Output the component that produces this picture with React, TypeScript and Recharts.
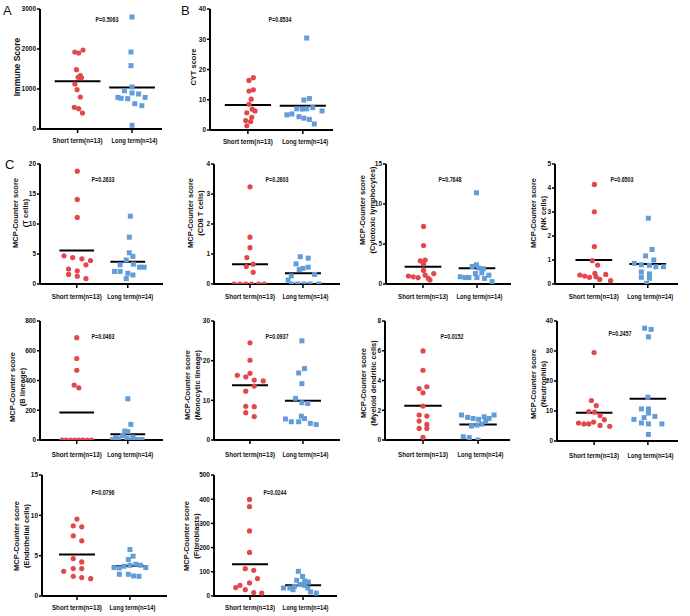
import React from 'react';
import { ScatterChart, Scatter, XAxis, YAxis, ReferenceLine } from 'recharts';

// ---------- categories / tick labels ----------
const groupLabels = ['Short term(n=13)', 'Long term(n=14)'];

// ---------- data: [x position within group (jitter), value] ----------
const immuneShort = [[0.95, 1925], [1.02, 1900], [1.1, 1975], [0.98, 1483], [1.05, 1333], [1.01, 1292], [1.07, 1283], [0.95, 1125], [0.99, 983], [1.05, 800], [0.94, 541], [1.02, 508], [1.09, 400]];
const immuneLong = [[2.0, 2800], [1.98, 1925], [1.98, 1583], [2.0, 1050], [1.86, 958], [2.0, 900], [2.12, 875], [1.74, 790], [1.8, 767], [1.92, 758], [2.24, 790], [2.05, 633], [2.18, 583], [2.0, 92]];
const immuneMeans = [1196, 1040];
const immuneTicks = [0, 1000, 2000, 3000];

const cytShort = [[1.1, 17.3], [1.02, 16.4], [1.1, 13.3], [1.02, 12.9], [1.06, 10.2], [1.02, 8.5], [1.08, 6.9], [1.13, 6.3], [0.98, 5.7], [1.07, 4.2], [0.96, 3.1], [1.05, 2.8], [0.98, 1.4]];
const cytLong = [[2.07, 30.4], [2.12, 10.4], [2.02, 9.9], [1.89, 7.0], [1.99, 6.9], [2.07, 7.0], [2.18, 7.4], [2.35, 6.3], [1.8, 5.3], [1.71, 5.0], [1.93, 4.4], [2.02, 3.9], [2.12, 3.5], [2.21, 2.0]];
const cytMeans = [8.3, 8.0];
const cytTicks = [0, 10, 20, 30, 40];

const tShort = [[1.01, 18.8], [1.01, 14.1], [1.01, 11.1], [0.75, 4.7], [0.92, 4.4], [1.1, 4.2], [1.27, 3.9], [1.18, 3.2], [0.84, 2.5], [1.01, 2.2], [0.84, 1.6], [1.01, 1.3], [1.18, 0.9]];
const tLong = [[2.05, 11.3], [2.03, 7.8], [2.03, 5.2], [2.1, 4.6], [1.97, 4.0], [1.85, 3.2], [2.11, 3.3], [2.23, 2.8], [2.32, 2.8], [1.74, 2.1], [1.85, 2.1], [2.0, 1.8], [2.1, 1.5], [1.97, 0.9]];
const tMeans = [5.6, 3.7];
const tTicks = [0, 5, 10, 15, 20];

const cd8Short = [[1.0, 3.24], [1.0, 1.56], [1.0, 1.21], [0.94, 0.88], [1.06, 0.66], [0.93, 0.58], [1.06, 0.39], [0.7, 0], [0.81, 0], [0.92, 0], [1.03, 0], [1.16, 0], [1.27, 0]];
const cd8Long = [[1.95, 0.91], [2.1, 0.86], [1.87, 0.67], [2.1, 0.56], [2.0, 0.52], [1.93, 0.48], [2.22, 0.32], [1.78, 0.27], [1.72, 0.13], [1.78, 0], [1.9, 0], [2.02, 0], [2.14, 0], [2.3, 0]];
const cd8Means = [0.66, 0.36];
const cd8Ticks = [0, 1, 2, 3, 4];

const cytoShort = [[1.01, 7.2], [1.01, 4.8], [1.04, 3.0], [0.95, 2.9], [1.01, 2.5], [1.01, 1.7], [1.2, 1.3], [1.04, 1.1], [0.73, 1.0], [0.82, 0.9], [0.91, 0.8], [1.1, 0.7], [1.13, 0.5]];
const cytoLong = [[1.99, 11.4], [1.99, 2.4], [1.91, 2.2], [2.03, 2.0], [2.12, 1.9], [2.09, 1.4], [1.97, 1.3], [2.22, 1.1], [1.69, 0.9], [1.78, 0.8], [1.85, 0.8], [2.0, 0.8], [2.14, 0.7], [2.28, 0.3]];
const cytoMeans = [2.17, 1.96];
const cytoTicks = [0, 5, 10, 15];

const nkShort = [[1.01, 4.15], [1.01, 3.01], [1.01, 1.56], [0.97, 0.97], [1.07, 0.79], [0.74, 0.375], [0.83, 0.33], [0.92, 0.28], [1.02, 0.44], [1.22, 0.4], [1.11, 0.19], [1.31, 0.14], [1.04, 0.3]];
const nkLong = [[2.01, 2.74], [2.08, 1.44], [1.96, 1.17], [2.11, 1.0], [1.75, 0.86], [1.88, 0.8], [2.03, 0.78], [2.15, 0.72], [2.29, 0.72], [1.88, 0.5], [2.03, 0.42], [1.88, 0.28], [2.03, 0.24], [1.98, 0.02]];
const nkMeans = [1.0, 0.83];
const nkTicks = [0, 1, 2, 3, 4, 5];

const bShort = [[1.0, 688], [1.0, 548], [1.0, 469], [0.95, 369], [1.04, 351], [0.71, 0], [0.79, 0], [0.88, 0], [0.96, 0], [1.04, 0], [1.12, 0], [1.21, 0], [1.29, 0]];
const bLong = [[2.0, 277], [2.06, 105], [1.94, 60], [2.0, 56], [1.9, 30], [1.76, 15], [2.1, 20], [1.82, 8], [1.98, 10], [2.14, 5], [2.28, 3], [1.7, 2], [2.22, 1], [2.05, 0]];
const bMeans = [185, 38];
const bTicks = [0, 200, 400, 600, 800];

const monoShort = [[1.0, 24.5], [1.0, 20.1], [0.76, 16.3], [0.92, 15.9], [1.0, 16.8], [1.08, 15.1], [1.25, 14.9], [1.08, 13.6], [0.92, 12.3], [0.92, 8.5], [1.08, 8.4], [0.92, 6.9], [1.08, 5.9]];
const monoLong = [[1.98, 25.0], [2.03, 18.0], [1.92, 16.9], [1.98, 14.2], [1.86, 10.5], [1.98, 9.4], [2.09, 9.2], [1.97, 6.0], [2.03, 5.4], [1.67, 5.3], [1.78, 4.6], [1.92, 4.6], [2.14, 4.2], [2.25, 3.9]];
const monoMeans = [13.8, 9.9];
const monoTicks = [0, 10, 20, 30];

const mdcShort = [[1.0, 5.99], [1.0, 4.69], [0.93, 3.46], [1.07, 3.58], [1.0, 3.17], [1.0, 2.28], [0.93, 1.68], [1.07, 1.61], [0.93, 1.27], [1.07, 1.05], [0.93, 0.78], [1.07, 0.78], [1.0, 0.18]];
const mdcLong = [[1.7, 1.68], [1.81, 1.52], [1.91, 1.45], [2.01, 1.39], [2.11, 1.56], [2.2, 1.45], [2.29, 1.68], [1.88, 0.94], [1.98, 1.0], [2.07, 1.07], [2.14, 1.27], [1.73, 0.22], [1.84, 0.16], [2.0, 0.0]];
const mdcMeans = [2.3, 1.05];
const mdcTicks = [0, 2, 4, 6, 8];

const neuShort = [[1.0, 29.5], [0.95, 13.5], [1.04, 11.8], [0.9, 9.8], [1.01, 9.6], [1.11, 8.5], [1.19, 7.1], [0.71, 6.0], [0.81, 5.7], [0.9, 5.7], [0.99, 6.3], [1.11, 5.2], [1.29, 4.9]];
const neuLong = [[1.94, 37.6], [2.06, 37.2], [2.01, 34.7], [2.0, 14.6], [1.88, 10.7], [2.01, 10.7], [2.01, 9.3], [2.13, 8.2], [1.74, 7.2], [1.88, 6.0], [2.01, 5.7], [2.26, 5.7], [2.01, 2.2], [1.93, 7.8]];
const neuMeans = [9.4, 14.1];
const neuTicks = [0, 10, 20, 30, 40];

const endoShort = [[1.0, 9.53], [0.93, 8.7], [1.09, 8.58], [0.93, 7.46], [1.09, 6.84], [0.93, 4.64], [1.09, 4.23], [0.75, 3.07], [0.93, 3.4], [1.09, 3.4], [0.93, 2.44], [1.09, 2.28], [1.26, 2.15]];
const endoLong = [[2.0, 5.76], [2.06, 4.93], [1.97, 4.52], [1.7, 3.52], [1.8, 3.48], [1.89, 3.69], [2.0, 3.81], [2.11, 3.94], [2.2, 3.81], [2.3, 3.52], [1.8, 2.69], [1.97, 2.69], [2.07, 2.49], [2.17, 2.44]];
const endoMeans = [5.14, 3.73];
const endoTicks = [0, 5, 10, 15];

const fibShort = [[0.99, 399], [0.99, 369], [0.99, 269], [0.99, 180], [0.91, 113], [1.07, 106], [1.14, 72], [0.99, 54], [0.81, 44], [0.73, 35], [0.91, 26], [1.07, 14], [1.22, 12]];
const fibLong = [[1.91, 102], [1.99, 81], [1.88, 65], [2.03, 62], [2.1, 58], [1.94, 48], [2.03, 44], [1.84, 40], [1.75, 33], [1.63, 33], [2.09, 33], [1.81, 26], [2.14, 17], [2.25, 12]];
const fibMeans = [131, 44];
const fibTicks = [0, 100, 200, 300, 400, 500];

// ---------- styling / layout ----------
const RED = '#e2474b';
const BLUE = '#629dd9';
const FONT = "'Liberation Sans', Arial, Helvetica, sans-serif";
const YW = 45;
const MT = 8;
const MR = 28;
const XH = 26;

const toPts = (arr: number[][]) => arr.map(([x, y]) => ({ x, y }));

const panels = [
  { title: ['Immune Score'], s: immuneShort, l: immuneLong, m: immuneMeans, t: immuneTicks, p: 'P=0.5063', lx: 40, top: 9, w: 122, h: 120, dom: [0.31, 2.55], half: 0.42, lDx: -23, lDy: -2, lFs: 8.5, gap: 2.4, pDy: 10, pDx: 67 },
  { title: ['CYT score'], s: cytShort, l: cytLong, m: cytMeans, t: cytTicks, p: 'P=0.8534', lx: 210, top: 9, w: 123, h: 121, dom: [0.31, 2.55], half: 0.42, lDx: -16, lDy: -3, lFs: 7.5, gap: 2.4, pDy: 10, pDx: 70 },
  { title: ['MCP-Counter score', '(T cells)'], s: tShort, l: tLong, m: tMeans, t: tTicks, p: 'P=0.2633', lx: 40, top: 164, w: 123, h: 120, dom: [0.28, 2.69], half: 0.34, lDx: -19, lDy: -11, lFs: 7.5, gap: 3.4, pDy: 15, pDx: 63 },
  { title: ['MCP-Counter score', '(CD8 T cells)'], s: cd8Short, l: cd8Long, m: cd8Means, t: cd8Ticks, p: 'P=0.2603', lx: 214, top: 164, w: 126, h: 120, dom: [0.32, 2.7], half: 0.34, lDx: -18, lDy: -11, lFs: 7.5, gap: 3.4, pDy: 15, pDx: 63 },
  { title: ['MCP-Counter score', '(Cytotoxic lymphocytes)'], s: cytoShort, l: cytoLong, m: cytoMeans, t: cytoTicks, p: 'P=0.7648', lx: 386, top: 164, w: 125, h: 120, dom: [0.315, 2.63], half: 0.34, lDx: -18, lDy: -14, lFs: 7.5, gap: 3.4, pDy: 15, pDx: 64 },
  { title: ['MCP-Counter score', '(NK cells)'], s: nkShort, l: nkLong, m: nkMeans, t: nkTicks, p: 'P=0.6503', lx: 555, top: 164, w: 123, h: 120, dom: [0.28, 2.56], half: 0.34, lDx: -16, lDy: -11, lFs: 7.5, gap: 3.4, pDy: 15, pDx: 67 },
  { title: ['MCP-Counter score', '(B lineage)'], s: bShort, l: bLong, m: bMeans, t: bTicks, p: 'P=0.0463', lx: 40, top: 321, w: 123, h: 119, dom: [0.28, 2.69], half: 0.34, lDx: -22, lDy: 6, lFs: 7.5, gap: 5.4, pDy: 15, pDx: 63 },
  { title: ['MCP-Counter score', '(Monocytic lineage)'], s: monoShort, l: monoLong, m: monoMeans, t: monoTicks, p: 'P=0.0937', lx: 214, top: 321, w: 126, h: 119, dom: [0.32, 2.7], half: 0.34, lDx: -21, lDy: 4, lFs: 7.5, gap: 5.4, pDy: 15, pDx: 63 },
  { title: ['MCP-Counter score', '(Myeloid dendritic cells)'], s: mdcShort, l: mdcLong, m: mdcMeans, t: mdcTicks, p: 'P=0.0152', lx: 385, top: 321, w: 125, h: 119, dom: [0.31, 2.58], half: 0.34, lDx: -16, lDy: 2, lFs: 7.5, gap: 5.4, pDy: 15, pDx: 67 },
  { title: ['MCP-Counter score', '(Neutrophils)'], s: neuShort, l: neuLong, m: neuMeans, t: neuTicks, p: 'P=0.2457', lx: 557, top: 321, w: 121, h: 120, dom: [0.31, 2.56], half: 0.34, lDx: -18, lDy: 3, lFs: 7.5, gap: 5.4, pDy: 12, pDx: 63 },
  { title: ['MCP-Counter score', '(Endothelial cells)'], s: endoShort, l: endoLong, m: endoMeans, t: endoTicks, p: 'P=0.0796', lx: 42, top: 475, w: 125, h: 121, dom: [0.34, 2.7], half: 0.34, lDx: -20, lDy: 0, lFs: 7.5, gap: 2.4, pDy: 17, pDx: 61 },
  { title: ['MCP-Counter score', '(Fibroblasts)'], s: fibShort, l: fibLong, m: fibMeans, t: fibTicks, p: 'P=0.0244', lx: 214, top: 475, w: 123, h: 121, dom: [0.32, 2.64], half: 0.34, lDx: -22, lDy: 0, lFs: 7.5, gap: 2.4, pDy: 17, pDx: 61 },
];

const RedDot = (props: any) => <circle cx={props.cx} cy={props.cy} r={2.6} fill={RED} />;
const BlueSq = (props: any) => <rect x={props.cx - 2.5} y={props.cy - 2.5} width={5} height={5} fill={BLUE} />;

const XTick = (props: any) => {
  const { x, y, payload, gap } = props;
  const idx = Math.round(payload.value) - 1;
  const label = groupLabels[idx] ?? '';
  return (
    <text
      x={x + (idx === 0 ? 0 : 2.5)}
      y={y + gap}
      dy="0.71em"
      textAnchor="middle"
      fontSize={7.5}
      fontWeight={700}
      fontFamily={FONT}
      fill="#111"
      textLength={idx === 0 ? 50 : 46}
      lengthAdjust="spacingAndGlyphs"
    >
      {label}
    </text>
  );
};

const Panel = ({ cfg }: { cfg: any }) => {
  const ymax = cfg.t[cfg.t.length - 1];
  return (
    <div style={{ position: 'absolute', left: cfg.lx - YW, top: cfg.top - MT }}>
      <ScatterChart
        width={YW + cfg.w + MR}
        height={MT + cfg.h + XH}
        margin={{ top: MT, right: MR, left: 0, bottom: 0 }}
      >
        <XAxis
          type="number"
          dataKey="x"
          domain={cfg.dom}
          ticks={[1, 2]}
          interval={0}
          allowDataOverflow
          height={XH}
          axisLine={{ stroke: '#000', strokeWidth: 2 }}
          tickLine={{ stroke: '#000', strokeWidth: 1.5 }}
          tickSize={4}
          tick={<XTick gap={cfg.gap} />}
        />
        <YAxis
          type="number"
          dataKey="y"
          domain={[0, ymax]}
          ticks={cfg.t}
          interval={0}
          allowDataOverflow
          width={YW}
          axisLine={{ stroke: '#000', strokeWidth: 2 }}
          tickLine={{ stroke: '#000', strokeWidth: 1.5 }}
          tickSize={3}
          tickMargin={1}
          tick={{ fontSize: 6.5, fontWeight: 700, fill: '#111', fontFamily: FONT }}
        />
        <Scatter data={toPts(cfg.s)} isAnimationActive={false} shape={RedDot} />
        <Scatter data={toPts(cfg.l)} isAnimationActive={false} shape={BlueSq} />
        <ReferenceLine
          segment={[{ x: 1 - cfg.half, y: cfg.m[0] }, { x: 1 + cfg.half, y: cfg.m[0] }]}
          stroke="#000"
          strokeWidth={2}
        />
        <ReferenceLine
          segment={[{ x: 2 - cfg.half, y: cfg.m[1] }, { x: 2 + cfg.half, y: cfg.m[1] }]}
          stroke="#000"
          strokeWidth={2}
        />
      </ScatterChart>
    </div>
  );
};

const YLabel = ({ cfg }: { cfg: any }) => (
  <div
    style={{
      position: 'absolute',
      left: cfg.lx + cfg.lDx,
      top: cfg.top + cfg.h / 2 + cfg.lDy,
      transform: 'translate(-50%, -50%) rotate(-90deg)',
      fontFamily: FONT,
      fontWeight: 700,
      fontSize: cfg.lFs,
      lineHeight: '10px',
      whiteSpace: 'nowrap',
      textAlign: 'center',
      color: '#111',
    }}
  >
    {cfg.title.map((t: string, i: number) => (
      <div key={i}>{t}</div>
    ))}
  </div>
);

const PLabel = ({ cfg }: { cfg: any }) => (
  <div
    style={{
      position: 'absolute',
      left: cfg.lx + cfg.pDx,
      top: cfg.top + cfg.pDy,
      transform: 'translate(-50%, -50%) scaleX(0.82)',
      fontFamily: FONT,
      fontWeight: 700,
      fontSize: 6.5,
      whiteSpace: 'nowrap',
      color: '#111',
    }}
  >
    {cfg.p}
  </div>
);

const Letter = ({ text, left, top }: { text: string; left: number; top: number }) => (
  <div
    style={{
      position: 'absolute',
      left,
      top,
      fontFamily: FONT,
      fontSize: 13,
      lineHeight: '13px',
      color: '#111',
    }}
  >
    {text}
  </div>
);

export default function App() {
  return (
    <div
      style={{
        position: 'absolute',
        left: 0,
        top: 0,
        width: 690,
        height: 616,
        background: '#fff',
        overflow: 'hidden',
      }}
    >
      {panels.map((cfg, i) => (
        <Panel key={'p' + i} cfg={cfg} />
      ))}
      {panels.map((cfg, i) => (
        <YLabel key={'y' + i} cfg={cfg} />
      ))}
      {panels.map((cfg, i) => (
        <PLabel key={'pl' + i} cfg={cfg} />
      ))}
      <Letter text="A" left={3} top={4} />
      <Letter text="B" left={181} top={4} />
      <Letter text="C" left={5} top={158} />
    </div>
  );
}
